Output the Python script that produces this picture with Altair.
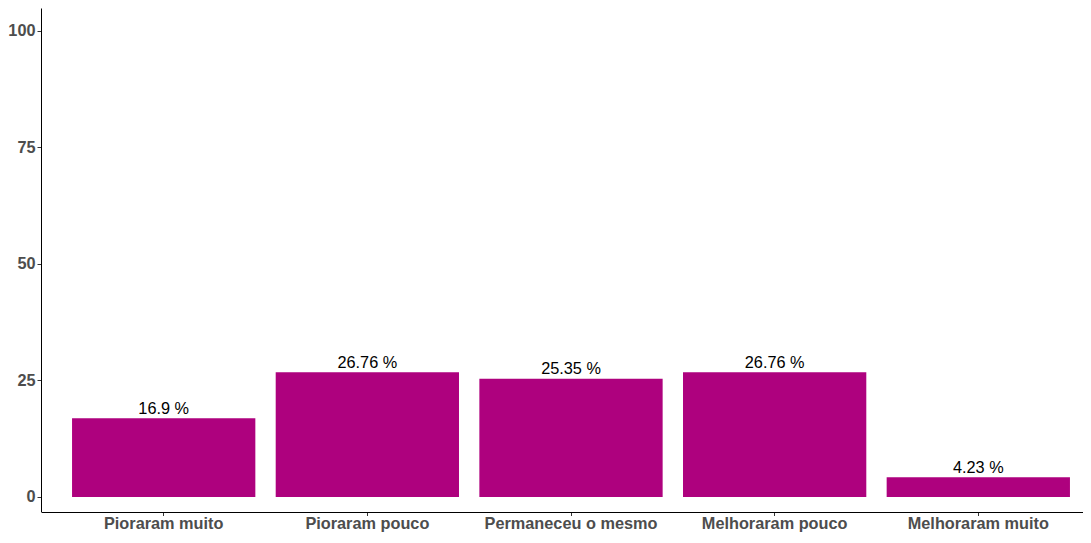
import altair as alt
import pandas as pd

categories = ["Pioraram muito", "Pioraram pouco", "Permaneceu o mesmo", "Melhoraram pouco", "Melhoraram muito"]
values = [16.9, 26.76, 25.35, 26.76, 4.23]
labels = ["16.9 %", "26.76 %", "25.35 %", "26.76 %", "4.23 %"]
y_ticks = [0, 25, 50, 75, 100]

df = pd.DataFrame({"cat": categories, "val": values, "lab": labels})

FONT = "Liberation Sans"
FS = 16.3

x = alt.X("cat:N", sort=categories, title=None,
          scale=alt.Scale(paddingInner=0.1, paddingOuter=0.15, range=[0.5, 1059.5]),
          axis=alt.Axis(labelAngle=0, labelFont=FONT, labelFontSize=FS, labelFontWeight="bold",
                        labelColor="#4d4d4d", domainColor="#000000", domainWidth=1,
                        tickColor="#333333", tickSize=3.5, labelPadding=0, grid=False))
y = alt.Y("val:Q", title=None,
          scale=alt.Scale(domain=[-3.22, 104.93], nice=False, zero=False),
          axis=alt.Axis(values=y_ticks, labelFont=FONT, labelFontSize=FS, labelFontWeight="bold",
                        labelColor="#4d4d4d", domainColor="#000000", domainWidth=1,
                        tickColor="#333333", tickSize=4, labelPadding=2, grid=False))

bars = alt.Chart(df).mark_bar(color="#AE017E").encode(
    x=x, y=y, y2=alt.datum(0)
)
text = alt.Chart(df).mark_text(font=FONT, fontSize=FS, color="#000000", baseline="alphabetic", dy=-4.6).encode(
    x=alt.X("cat:N", sort=categories), y=alt.Y("val:Q"), text="lab:N"
)

chart = (bars + text).properties(
    width=1042, height=504,
    background="#ffffff",
    autosize=alt.AutoSizeParams(type="none"),
    padding={"left": 33, "top": 0, "right": 0, "bottom": 23},
).configure_view(strokeWidth=0, stroke="transparent")

chart.save("out.html", embed_options={"renderer": "svg", "actions": False})
